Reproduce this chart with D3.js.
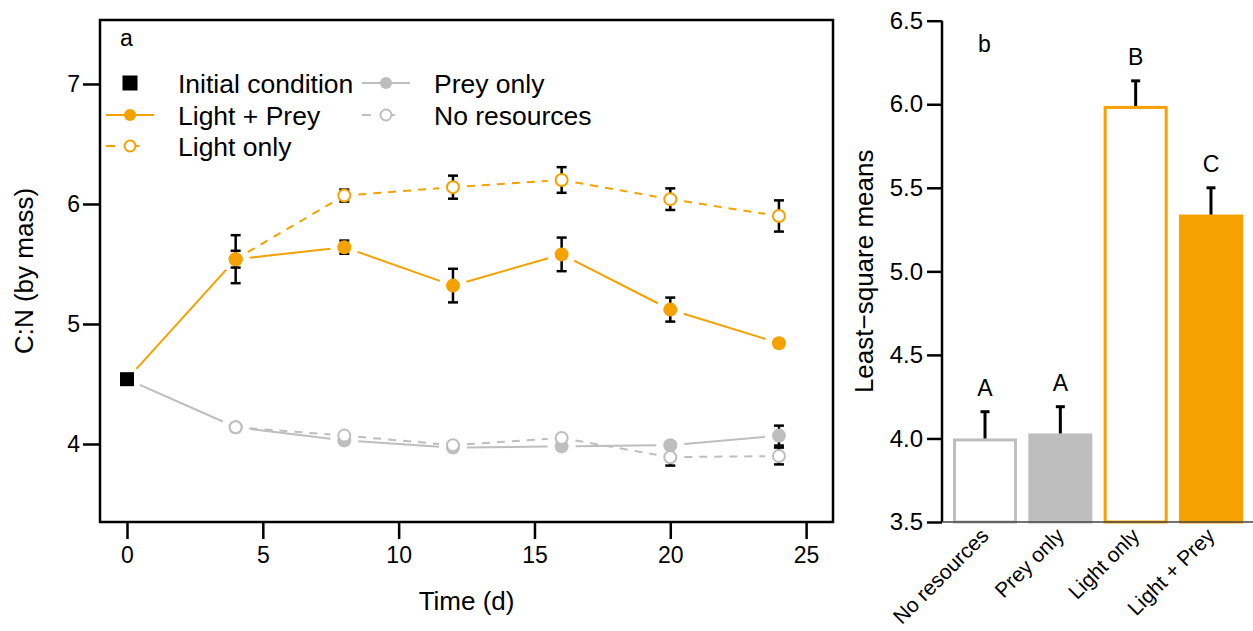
<!DOCTYPE html>
<html><head><meta charset="utf-8">
<script src="https://cdn.jsdelivr.net/npm/d3@7"></script>
<style>
body{margin:0;background:#fff}
svg{display:block}
text{font-family:"Liberation Sans",Arial,Helvetica,sans-serif;fill:#000}
</style>
</head><body>
<svg id="chart" width="1253" height="631"></svg>
<script>
// ---------- Data: panel a (time series) ----------
const days = [4, 8, 12, 16, 20, 24];
const initialDay = 0;
const initialValue = 4.54;
const lightPrey   = [5.54, 5.64, 5.32, 5.58, 5.12, 4.84];
const lightPreySE = [0.07, 0.055, 0.14, 0.14, 0.10, 0.03];
const lightOnly   = [5.54, 6.07, 6.14, 6.20, 6.04, 5.90];
const lightOnlySE = [0.20, 0.05, 0.096, 0.107, 0.09, 0.13];
const preyOnly    = [4.14, 4.03, 3.97, 3.98, 3.99, 4.07];
const preyOnlySE  = [0.02, 0.02, 0.02, 0.02, 0.02, 0.083];
const noResources   = [4.14, 4.07, 3.99, 4.05, 3.89, 3.90];
const noResourcesSE = [0.02, 0.02, 0.02, 0.02, 0.07, 0.07];
const xTicksA = [0, 5, 10, 15, 20, 25];
const yTicksA = [4, 5, 6, 7];

// ---------- Data: panel b (least-square means) ----------
const barCategories = ["No resources", "Prey only", "Light only", "Light + Prey"];
const barMeans = [4.00, 4.03, 5.99, 5.34];
const barSE = [0.16, 0.16, 0.15, 0.16];
const barLetters = ["A", "A", "B", "C"];
const yTicksB = [3.5, 4.0, 4.5, 5.0, 5.5, 6.0, 6.5];

// ---------- Styles ----------
const ORANGE = "#F5A200";
const GRAY = "#BEBEBE";

const svg = d3.select("#chart");

// ================= Panel a =================
const xA = d3.scaleLinear().domain([-0.994, 25.99]).range([100, 833]);
const yA = d3.scaleLinear().domain([3.35, 7.533]).range([522, 20]);
const gA = svg.append("g");

// axes
const xAxisA = d3.axisBottom(xA).tickValues(xTicksA).tickSize(17).tickPadding(8).tickFormat(d3.format("d"));
const gx = gA.append("g").attr("transform", "translate(0,522)").call(xAxisA);
gx.select(".domain").remove();
gx.selectAll(".tick line").attr("stroke", "#000").attr("stroke-width", 2.5);
gx.selectAll(".tick text").attr("font-size", 23).attr("font-family", "Liberation Sans, Arial, sans-serif").attr("dy", "0.71em");

const yAxisA = d3.axisLeft(yA).tickValues(yTicksA).tickSize(17).tickPadding(3).tickFormat(d3.format("d"));
const gy = gA.append("g").attr("transform", "translate(100,0)").call(yAxisA);
gy.select(".domain").remove();
gy.selectAll(".tick line").attr("stroke", "#000").attr("stroke-width", 2.5);
gy.selectAll(".tick text").attr("font-size", 23).attr("font-family", "Liberation Sans, Arial, sans-serif");

gA.append("rect").attr("x", 100).attr("y", 20).attr("width", 733).attr("height", 502)
  .attr("fill", "none").attr("stroke", "#000").attr("stroke-width", 2.5);

gA.append("text").attr("x", xA(12.5)).attr("y", 610).attr("text-anchor", "middle")
  .attr("font-size", 26).text("Time (d)");
gA.append("text").attr("transform", `translate(33,${(20 + 522) / 2}) rotate(-90)`)
  .attr("text-anchor", "middle").attr("font-size", 26).text("C:N (by mass)");
gA.append("text").attr("x", 120).attr("y", 46).attr("font-size", 23).text("a");

// series definitions
const series = [
  {name: "Prey only", vals: preyOnly, se: preyOnlySE, color: GRAY, filled: true, dash: null, fromInitial: true},
  {name: "No resources", vals: noResources, se: noResourcesSE, color: GRAY, filled: false, dash: "8,7", fromInitial: false},
  {name: "Light only", vals: lightOnly, se: lightOnlySE, color: ORANGE, filled: false, dash: "8,7", fromInitial: false},
  {name: "Light + Prey", vals: lightPrey, se: lightPreySE, color: ORANGE, filled: true, dash: null, fromInitial: true}
];

function gappedSegments(pts, gap) {
  const segs = [];
  for (let i = 0; i < pts.length - 1; i++) {
    const [x1, y1] = pts[i], [x2, y2] = pts[i + 1];
    const dx = x2 - x1, dy = y2 - y1, len = Math.hypot(dx, dy);
    if (len <= 2 * gap) continue;
    const ux = dx / len, uy = dy / len;
    segs.push([x1 + ux * gap, y1 + uy * gap, x2 - ux * gap, y2 - uy * gap]);
  }
  return segs;
}

const errG = gA.append("g");
const lineG = gA.append("g");
const ptG = gA.append("g");

series.forEach(s => {
  // error bars
  days.forEach((d, i) => {
    const x = xA(d), yt = yA(s.vals[i] + s.se[i]), yb = yA(s.vals[i] - s.se[i]);
    errG.append("line").attr("x1", x).attr("x2", x).attr("y1", yt).attr("y2", yb)
      .attr("stroke", "#000").attr("stroke-width", 2.5);
    [yt, yb].forEach(yy => errG.append("line").attr("x1", x - 5).attr("x2", x + 5)
      .attr("y1", yy).attr("y2", yy).attr("stroke", "#000").attr("stroke-width", 2.5));
  });
  // lines with gaps around points (type "b")
  let pts = days.map((d, i) => [xA(d), yA(s.vals[i])]);
  if (s.fromInitial) pts = [[xA(initialDay), yA(initialValue)]].concat(pts);
  gappedSegments(pts, 14).forEach(sg => {
    lineG.append("line").attr("x1", sg[0]).attr("y1", sg[1]).attr("x2", sg[2]).attr("y2", sg[3])
      .attr("stroke", s.color).attr("stroke-width", 2)
      .attr("stroke-dasharray", s.dash);
  });
  // points
  days.forEach((d, i) => {
    ptG.append("circle").attr("cx", xA(d)).attr("cy", yA(s.vals[i]))
      .attr("r", s.filled ? 7 : 6)
      .attr("fill", s.filled ? s.color : "#fff")
      .attr("stroke", s.color).attr("stroke-width", s.filled ? 0 : 2);
  });
});
// initial condition
ptG.append("rect").attr("x", xA(initialDay) - 7).attr("y", yA(initialValue) - 7)
  .attr("width", 14).attr("height", 14).attr("fill", "#000");

// legend
const legend = gA.append("g");
const legItems = [
  {label: "Initial condition", type: "square", x: 130, y: 83},
  {label: "Light + Prey", color: ORANGE, filled: true, dash: null, x: 130, y: 115},
  {label: "Light only", color: ORANGE, filled: false, dash: "9,15", x: 130, y: 146},
  {label: "Prey only", color: GRAY, filled: true, dash: null, x: 386, y: 83},
  {label: "No resources", color: GRAY, filled: false, dash: "9,15", x: 386, y: 115}
];
legItems.forEach(it => {
  if (it.type === "square") {
    legend.append("rect").attr("x", it.x - 7.5).attr("y", it.y - 7.5).attr("width", 15).attr("height", 15).attr("fill", "#000");
  } else {
    legend.append("line").attr("x1", it.x - 24).attr("x2", it.x + 24).attr("y1", it.y).attr("y2", it.y)
      .attr("stroke", it.color).attr("stroke-width", 2).attr("stroke-dasharray", it.dash);
    legend.append("circle").attr("cx", it.x).attr("cy", it.y).attr("r", it.filled ? 6 : 5.5)
      .attr("fill", it.filled ? it.color : "#fff").attr("stroke", it.color).attr("stroke-width", it.filled ? 0 : 2);
  }
  legend.append("text").attr("x", it.x + 48).attr("y", it.y + 10).attr("font-size", 26.5).text(it.label);
});

// ================= Panel b =================
const xB = d3.scaleBand().domain(barCategories).range([947.35, 1248.65]).paddingInner(0.15).paddingOuter(0.075);
const yB = d3.scaleLinear().domain([3.5, 6.5]).range([522, 20.7]);
const gB = svg.append("g");

const yAxisB = d3.axisLeft(yB).tickValues(yTicksB).tickSize(15).tickPadding(4).tickFormat(d3.format(".1f"));
const gyB = gB.append("g").attr("transform", "translate(942,0)").call(yAxisB);
gyB.select(".domain").attr("stroke", "#000").attr("stroke-width", 2.5).attr("d", `M0,${yB(6.5)}V${yB(3.5)}`);
gyB.selectAll(".tick line").attr("stroke", "#000").attr("stroke-width", 2.5);
gyB.selectAll(".tick text").attr("font-size", 24).attr("font-family", "Liberation Sans, Arial, sans-serif");

gB.append("text").attr("transform", `translate(873,${(20.7 + 522) / 2}) rotate(-90)`)
  .attr("text-anchor", "middle").attr("font-size", 26).text("Least\u2212square means");
gB.append("text").attr("x", 978).attr("y", 52).attr("font-size", 23).text("b");

const barStyles = [
  {fill: "#fff", stroke: GRAY},
  {fill: GRAY, stroke: GRAY},
  {fill: "#fff", stroke: ORANGE},
  {fill: ORANGE, stroke: ORANGE}
];
barCategories.forEach((c, i) => {
  const x0 = xB(c), w = xB.bandwidth();
  gB.append("rect").attr("x", x0 + 1.5).attr("y", yB(barMeans[i]) + 1.5)
    .attr("width", w - 3).attr("height", yB(3.5) - yB(barMeans[i]) - 1.5)
    .attr("fill", barStyles[i].fill).attr("stroke", barStyles[i].stroke).attr("stroke-width", 3);
  const cx = x0 + w / 2, yt = yB(barMeans[i] + barSE[i]);
  gB.append("line").attr("x1", cx).attr("x2", cx).attr("y1", yB(barMeans[i])).attr("y2", yt)
    .attr("stroke", "#000").attr("stroke-width", 3);
  gB.append("line").attr("x1", cx - 4.5).attr("x2", cx + 4.5).attr("y1", yt).attr("y2", yt)
    .attr("stroke", "#000").attr("stroke-width", 3);
  gB.append("text").attr("x", cx).attr("y", yt - 16).attr("text-anchor", "middle")
    .attr("font-size", 23).text(barLetters[i]);
  gB.append("text").attr("transform", `translate(${cx + 5},537) rotate(-45)`)
    .attr("text-anchor", "end").attr("font-size", 21).text(c);
});
// bottom axis line
gB.append("line").attr("x1", 942).attr("x2", 1253).attr("y1", 522).attr("y2", 522)
  .attr("stroke", "#444").attr("stroke-width", 1.5);
</script>
</body></html>
